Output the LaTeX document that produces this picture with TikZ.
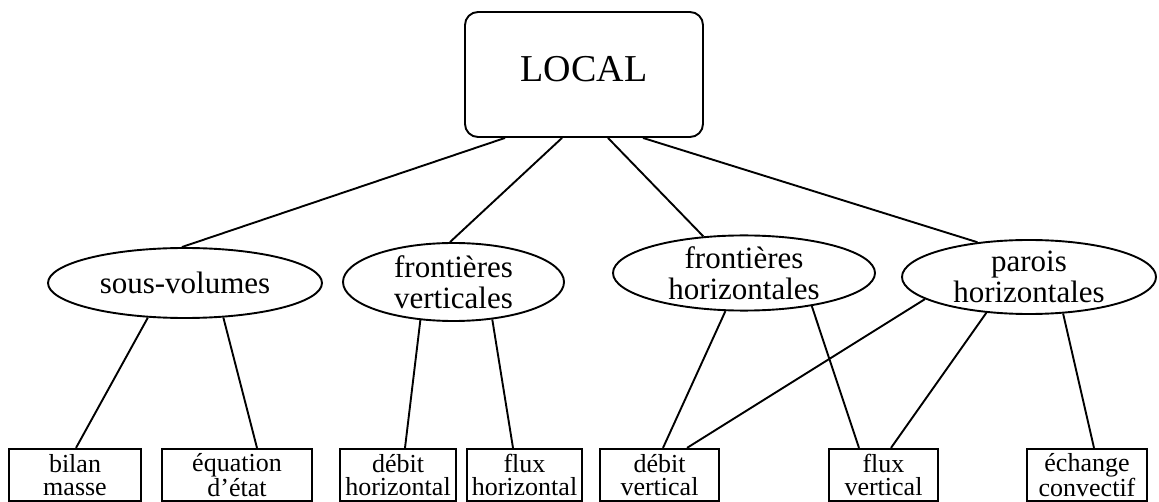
\documentclass[tikz,border=0pt]{standalone}
\usepackage{fontspec}
\setmainfont{Liberation Serif}
\usetikzlibrary{shapes.geometric}

\begin{document}
\begin{tikzpicture}[x=1pt, y=-1pt, line width=1.9pt,
        cat/.style={draw, ellipse, inner sep=0pt, align=center, font=\fontsize{31}{31}\selectfont},
        leaf/.style={draw, rectangle, line width=2.2pt, inner sep=0pt, minimum height=52pt, align=center, font=\fontsize{26}{22.5}\selectfont}]
            \useasboundingbox (0,0) rectangle (1159,502);

            \node[draw, rounded corners=13pt, minimum width=238pt, minimum height=125pt, inner sep=0pt,
                text height=25pt, text depth=10pt, font=\fontsize{38}{38}\selectfont] (local) at (584,74.5) {LOCAL};

            \node[cat, minimum width=274pt, minimum height=70pt] (sv) at (185,283) {sous-volumes};
            \node[cat, minimum width=221pt, minimum height=78pt] (fv) at (453.5,282) {frontières\\verticales};
            \node[cat, minimum width=262pt, minimum height=72pt] (fh) at (744,273) {frontières\\horizontales};
            \node[cat, minimum width=254pt, minimum height=74pt] (ph) at (1029,277) {parois\\horizontales};

            \node[leaf, minimum width=132pt] (bm) at (75,475) {bilan\\masse};
            \node[leaf, minimum width=150pt] (ee) at (237,475) {équation\\d'état};
            \node[leaf, minimum width=116pt] (dh) at (398,475) {débit\\horizontal};
            \node[leaf, minimum width=115pt] (fxh) at (524.5,475) {flux\\horizontal};
            \node[leaf, minimum width=119pt] (dv) at (659.5,475) {débit\\vertical};
            \node[leaf, minimum width=109pt] (fxv) at (883.5,475) {flux\\vertical};
            \node[leaf, minimum width=120pt] (ec) at (1087,475) {échange\\convectif};

            \draw ([xshift=-79pt]local.south) -- (sv.95);
            \draw ([xshift=-22pt]local.south) -- (fv.95);
            \draw ([xshift=24pt]local.south) -- (fh.138.7);
            \draw ([xshift=59pt]local.south) -- (ph.146.8);

            \draw (sv.-137.4) -- ([xshift=1pt]bm.north);
            \draw (sv.-42.6) -- ([xshift=20pt]ee.north);
            \draw (fv.-131.4) -- ([xshift=7pt]dh.north);
            \draw (fv.-44.6) -- ([xshift=-11.5pt]fxh.north);
            \draw (fh.-116) -- ([xshift=3.5pt]dv.north);
            \draw (fh.-26.2) -- ([xshift=-24.5pt]fxv.north);
            \draw (ph.-168.6) -- ([xshift=27.5pt]dv.north);
            \draw (ph.-140.9) -- ([xshift=7.5pt]fxv.north);
            \draw (ph.-47.5) -- ([xshift=7pt]ec.north);
        \end{tikzpicture}
\end{document}
